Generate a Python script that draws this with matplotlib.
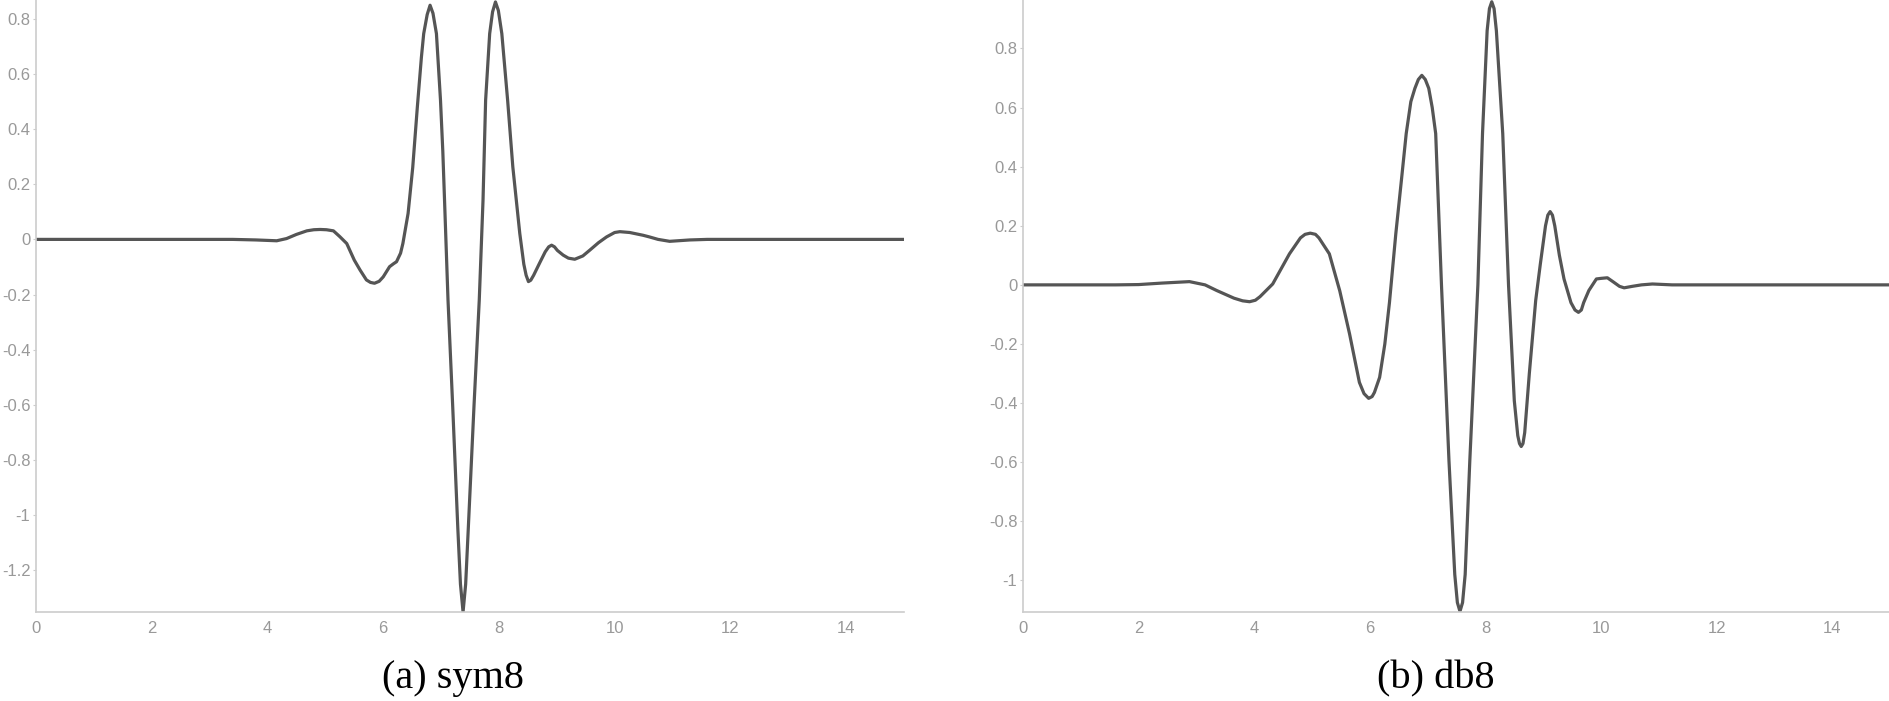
import matplotlib
matplotlib.use("Agg")
import matplotlib.pyplot as plt
from matplotlib.ticker import FuncFormatter, MultipleLocator

plt.rcParams['axes.unicode_minus'] = False

# sym8 wavelet
sym8_t = [0, 1, 2, 3, 3.4, 3.8, 4.16, 4.33, 4.5, 4.68, 4.8, 4.91, 5.02, 5.14,
          5.25, 5.37, 5.5, 5.6, 5.71, 5.78, 5.85, 5.93, 6.0, 6.11, 6.18, 6.23,
          6.3, 6.34, 6.43, 6.51, 6.59, 6.66, 6.7, 6.76, 6.81, 6.86, 6.92, 6.99,
          7.03, 7.06, 7.12, 7.2, 7.29, 7.335, 7.38, 7.425, 7.47, 7.57, 7.66,
          7.725, 7.77, 7.84, 7.89, 7.94, 7.99, 8.05, 8.15, 8.24, 8.36, 8.43,
          8.47, 8.51, 8.55, 8.6, 8.7, 8.8, 8.86, 8.91, 8.96, 9.01, 9.11, 9.2,
          9.31, 9.45, 9.57, 9.72, 9.86, 10.0, 10.09, 10.26, 10.49, 10.6, 10.75,
          10.95, 11.3, 11.6, 12, 15]
sym8_v = [0, 0, 0, 0, 0, -0.002, -0.005, 0.003, 0.018, 0.031, 0.035, 0.036,
          0.035, 0.031, 0.01, -0.015, -0.075, -0.111, -0.147, -0.156, -0.159,
          -0.152, -0.136, -0.099, -0.088, -0.081, -0.05, -0.015, 0.094, 0.26,
          0.48, 0.66, 0.746, 0.815, 0.849, 0.82, 0.746, 0.505, 0.32, 0.142,
          -0.22, -0.6, -1.05, -1.25, -1.351, -1.25, -1.05, -0.6, -0.22, 0.142,
          0.505, 0.746, 0.825, 0.861, 0.83, 0.746, 0.505, 0.263, 0.022, -0.09,
          -0.13, -0.153, -0.148, -0.13, -0.087, -0.045, -0.027, -0.021, -0.027,
          -0.04, -0.057, -0.068, -0.072, -0.06, -0.039, -0.012, 0.009, 0.025,
          0.028, 0.025, 0.015, 0.009, 0.0, -0.007, -0.002, 0, 0, 0]

# db8 wavelet
db8_t = [0, 1, 1.6, 2.0, 2.4, 2.88, 3.15, 3.35, 3.65, 3.8, 3.92, 4.02, 4.1, 4.32,
         4.61, 4.8, 4.88, 4.97, 5.06, 5.12, 5.3, 5.48, 5.65, 5.82, 5.9, 5.98,
         6.04, 6.08, 6.17, 6.26, 6.34, 6.45, 6.55, 6.63, 6.71, 6.78, 6.84, 6.9,
         6.96, 7.02, 7.08, 7.14, 7.24, 7.37, 7.47, 7.515, 7.56, 7.605, 7.65,
         7.73, 7.87, 7.95, 8.03, 8.07, 8.11, 8.15, 8.19, 8.3, 8.4, 8.5, 8.56,
         8.59, 8.62, 8.65, 8.68, 8.76, 8.87, 8.95, 9.04, 9.08, 9.12, 9.16, 9.2,
         9.28, 9.36, 9.48, 9.55, 9.61, 9.66, 9.7, 9.79, 9.92, 10.0, 10.11,
         10.22, 10.32, 10.4, 10.54, 10.7, 10.89, 11.23, 12, 15]
db8_v = [0, 0, 0, 0.001, 0.006, 0.011, 0.0, -0.019, -0.045, -0.054, -0.057,
         -0.052, -0.04, 0.003, 0.105, 0.159, 0.171, 0.175, 0.171, 0.159, 0.105,
         -0.02, -0.166, -0.33, -0.368, -0.384, -0.378, -0.364, -0.313, -0.2,
         -0.06, 0.173, 0.36, 0.512, 0.62, 0.665, 0.695, 0.709, 0.695, 0.665,
         0.6, 0.512, 0.0, -0.596, -0.98, -1.075, -1.105, -1.075, -0.98, -0.596,
         0.0, 0.512, 0.86, 0.935, 0.958, 0.935, 0.86, 0.512, 0.0, -0.392, -0.51,
         -0.537, -0.547, -0.537, -0.5, -0.3, -0.053, 0.07, 0.2, 0.236, 0.248,
         0.236, 0.2, 0.1, 0.02, -0.06, -0.085, -0.093, -0.085, -0.06, -0.019,
         0.02, 0.022, 0.024, 0.009, -0.005, -0.01, -0.005, 0.0, 0.003, 0.0, 0, 0]

captions = ['(a) sym8', '(b) db8']

line_col = '#555555'
axis_col = '#cccccc'
label_col = '#999999'


def fmt(v, pos):
    return '%g' % round(v, 2)


fig = plt.figure(figsize=(18.9, 7.01), dpi=100)
ax1 = fig.add_axes([36 / 1890, 1 - 612 / 701, 868 / 1890, 612 / 701])
ax2 = fig.add_axes([1023 / 1890, 1 - 612 / 701, 867 / 1890, 612 / 701])

panels = [(ax1, sym8_t, sym8_v, (-1.351, 0.868)),
          (ax2, db8_t, db8_v, (-1.107, 0.964))]

for ax, t, v, ylim in panels:
    ax.plot(t, v, color=line_col, lw=2.3, solid_joinstyle='round')
    ax.set_xlim(0, 15)
    ax.set_ylim(*ylim)
    ax.xaxis.set_major_locator(MultipleLocator(2))
    ax.yaxis.set_major_locator(MultipleLocator(0.2))
    ax.xaxis.set_major_formatter(FuncFormatter(fmt))
    ax.yaxis.set_major_formatter(FuncFormatter(fmt))
    for s in ['top', 'right']:
        ax.spines[s].set_visible(False)
    for s in ['left', 'bottom']:
        ax.spines[s].set_color(axis_col)
        ax.spines[s].set_linewidth(1.2)
    ax.tick_params(axis='y', length=2.5, width=0.8, color=axis_col,
                   labelcolor=label_col, labelsize=12, pad=1.5)
    ax.tick_params(axis='x', length=0, labelcolor=label_col,
                   labelsize=12, pad=6.5)
    for lab in ax.get_xticklabels() + ax.get_yticklabels():
        lab.set_fontfamily('Liberation Sans')

fig.text(453 / 1890, 13 / 701, captions[0], ha='center', va='baseline',
         fontsize=29, family='Liberation Serif')
fig.text(1436 / 1890, 13 / 701, captions[1], ha='center', va='baseline',
         fontsize=29, family='Liberation Serif')

fig.savefig('out.png', dpi=100)
